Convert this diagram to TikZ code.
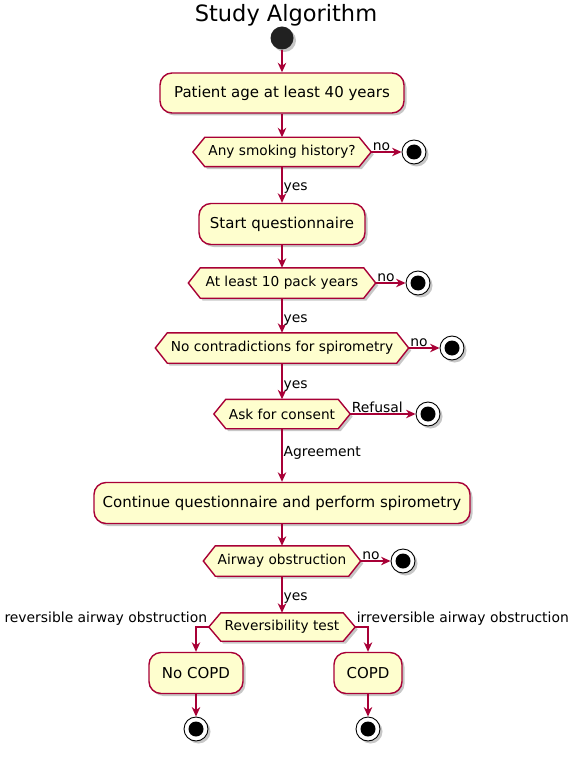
\documentclass[tikz,border=0pt]{standalone}
\usepackage{fontspec}
\setmainfont{DejaVu Sans}
\usetikzlibrary{arrows.meta,shadows,backgrounds}
\definecolor{umlborder}{HTML}{A80036}
\definecolor{umlfill}{HTML}{FEFECE}
\begin{document}
\begin{tikzpicture}[x=1pt,y=-1pt,
  shd/.style={drop shadow={shadow xshift=2.5pt,shadow yshift=-2.5pt,opacity=0.22,fill=black}},
  box/.style={draw=umlborder, fill=umlfill, line width=1.4pt, rounded corners=12pt,
    font=\fontsize{15}{17}\selectfont, inner sep=0pt, minimum height=40pt, shd},
  hexbody/.style={inner sep=0pt, minimum height=29pt, font=\fontsize{13.7}{16}\selectfont},
  hexline/.style={draw=umlborder, fill=umlfill, line width=1.4pt, shd},
  arr/.style={draw=umlborder, line width=1.3pt, -{Stealth[length=9.5pt,width=8.5pt,inset=3pt]}},
  lab/.style={font=\fontsize{13.9}{16}\selectfont, inner sep=1pt},
  startnode/.style={circle, fill=black!87, minimum size=23pt, inner sep=0pt, shd},
  endnode/.style={circle, draw=black, fill=white, line width=0.9pt, minimum size=24pt, inner sep=0pt,
    path picture={\fill[black] (path picture bounding box.center) circle (7.5pt);}, shd}
]
\useasboundingbox (0,0) rectangle (574,759);

\node[font=\fontsize{22.5}{26}\selectfont, inner sep=0pt] (title) at (286,15) {Study Algorithm};

\node[startnode] (start) at (282,38) {};
\node[box, minimum width=244pt] (b1) at (282,93) {Patient age at least 40 years};
\node[hexbody, minimum width=154pt] (d1) at (282,152) {Any smoking history?};
\node[endnode] (e1) at (414,152) {};
\node[box, minimum width=166pt, minimum height=41pt] (b2) at (282,224) {Start questionnaire};
\node[hexbody, minimum width=163pt, minimum height=30pt] (d2) at (282,283) {At least 10 pack years};
\node[endnode] (e2) at (418,283) {};
\node[hexbody, minimum width=229pt, minimum height=30pt] (d3) at (282,348) {No contradictions for spirometry};
\node[endnode] (e3) at (452,348) {};
\node[hexbody, minimum width=112pt] (d4) at (282,414) {Ask for consent};
\node[endnode] (e4) at (428,414) {};
\node[box, minimum width=376pt, minimum height=41pt] (b3) at (282,503) {Continue questionnaire and perform spirometry};
\node[hexbody, minimum width=133pt, minimum height=30pt] (d5) at (282,561) {Airway obstruction};
\node[endnode] (e5) at (403,561) {};
\node[hexbody, minimum width=122pt, minimum height=28pt] (d6) at (282,627) {Reversibility test};
\node[box, minimum width=94pt, minimum height=41pt] (nocopd) at (196,673) {No COPD};
\node[box, minimum width=68pt, minimum height=41pt] (copd) at (368,673) {COPD};
\node[endnode] (e6) at (196,729) {};
\node[endnode] (e7) at (368,729) {};

\foreach \n in {d1,d2,d3,d4,d5,d6}{
  \coordinate (\n-w) at ([xshift=-12pt]\n.west);
  \coordinate (\n-e) at ([xshift=12pt]\n.east);
}
\begin{pgfonlayer}{background}
\foreach \n in {d1,d2,d3,d4,d5,d6}{
  \draw[hexline] (\n.north west) -- (\n-w) -- (\n.south west) -- (\n.south east) -- (\n-e) -- (\n.north east) -- cycle;
}
\end{pgfonlayer}

\draw[arr] (start) -- (b1);
\draw[arr] (b1) -- (d1.north);
\draw[arr] (d1.south) -- node[lab, right, pos=0.58] {yes} (b2);
\draw[arr] (d1-e) -- node[lab, anchor=south west, pos=0] {no} (e1);
\draw[arr] (b2) -- (d2.north);
\draw[arr] (d2.south) -- node[lab, right, pos=0.62] {yes} (d3.north);
\draw[arr] (d2-e) -- node[lab, anchor=south west, pos=0] {no} (e2);
\draw[arr] (d3.south) -- node[lab, right, pos=0.62] {yes} (d4.north);
\draw[arr] (d3-e) -- node[lab, anchor=south west, pos=0] {no} (e3);
\draw[arr] (d4.south) -- node[lab, right, pos=0.45] {Agreement} (b3);
\draw[arr] (d4-e) -- node[lab, anchor=south west, pos=0] {Refusal} (e4);
\draw[arr] (b3) -- (d5.north);
\draw[arr] (d5.south) -- node[lab, right, pos=0.6] {yes} (d6.north);
\draw[arr] (d5-e) -- node[lab, anchor=south west, pos=0] {no} (e5);
\draw[arr] (d6-w) -| node[lab, anchor=south east, pos=0] {reversible airway obstruction} (nocopd);
\draw[arr] (d6-e) -| node[lab, anchor=south west, pos=0] {irreversible airway obstruction} (copd);
\draw[arr] (nocopd) -- (e6);
\draw[arr] (copd) -- (e7);
\end{tikzpicture}
\end{document}
